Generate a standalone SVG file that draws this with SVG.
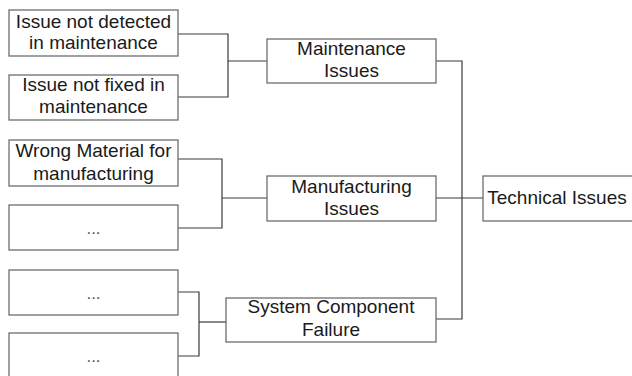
<svg xmlns="http://www.w3.org/2000/svg" width="632" height="376" viewBox="0 0 632 376">
<style>
.box{fill:#fff;stroke:#6e6e6e;stroke-width:1.3}
.t{font-family:"Liberation Sans",Arial,sans-serif;font-size:19px;fill:#1a1a1a;text-anchor:middle}
.d{font-family:"Liberation Sans",Arial,sans-serif;font-size:17px;fill:#555;text-anchor:middle}
.c{fill:none;stroke:#3a3a3a;stroke-width:1.2}
</style>
<rect width="632" height="376" fill="#fff"/>
<g id="connectors">
<polyline class="c" points="178,34 228,34 228,97 178,97"/>
<line class="c" x1="228" y1="61" x2="267" y2="61"/>
<polyline class="c" points="178,159 222,159 222,228 178,228"/>
<line class="c" x1="222" y1="198" x2="267" y2="198"/>
<polyline class="c" points="178,292 199,292 199,356 178,356"/>
<line class="c" x1="199" y1="322" x2="226" y2="322"/>
<polyline class="c" points="436,61 462,61 462,319 436,319"/>
<line class="c" x1="436" y1="198" x2="483" y2="198"/>
</g>
<g id="leaf1"><rect class="box" x="9" y="10" width="169" height="46"/><text class="t" x="93.5" y="28">Issue not detected</text><text class="t" x="93.5" y="49">in maintenance</text></g>
<g id="leaf2"><rect class="box" x="9" y="75" width="169" height="45"/><text class="t" x="93.5" y="91">Issue not fixed in</text><text class="t" x="93.5" y="113">maintenance</text></g>
<g id="leaf3"><rect class="box" x="9" y="140" width="169" height="46"/><text class="t" x="93.5" y="157">Wrong Material for</text><text class="t" x="93.5" y="180">manufacturing</text></g>
<g id="leaf4"><rect class="box" x="9" y="205" width="169" height="45"/><text class="d" x="93.5" y="234">...</text></g>
<g id="leaf5"><rect class="box" x="9" y="270" width="169" height="45"/><text class="d" x="93.5" y="299">...</text></g>
<g id="leaf6"><rect class="box" x="9" y="333" width="169" height="45"/><text class="d" x="93.5" y="362">...</text></g>
<g id="maintenance"><rect class="box" x="267" y="39" width="169" height="44"/><text class="t" x="351.5" y="55">Maintenance</text><text class="t" x="351.5" y="77">Issues</text></g>
<g id="manufacturing"><rect class="box" x="267" y="176" width="169" height="45"/><text class="t" x="351.5" y="193">Manufacturing</text><text class="t" x="351.5" y="215">Issues</text></g>
<g id="system"><rect class="box" x="226" y="298" width="210" height="44"/><text class="t" x="331" y="313">System Component</text><text class="t" x="331" y="336">Failure</text></g>
<g id="technical"><rect class="box" x="483" y="176" width="150" height="45"/><text class="t" x="557" y="204">Technical Issues</text></g>
</svg>
